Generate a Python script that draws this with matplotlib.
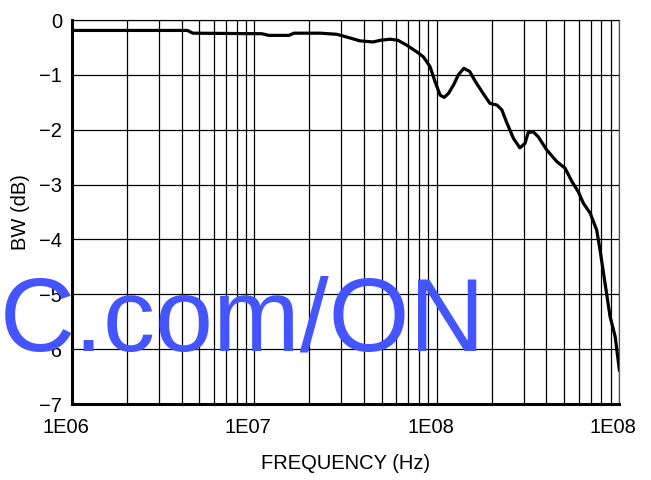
from matplotlib import pyplot as plt
from matplotlib.transforms import ScaledTranslation
import numpy as np

plt.rcParams['font.family'] = ['Liberation Sans', 'DejaVu Sans']

# bandwidth curve
freq = [1.0e6, 4.3e6, 4.6e6, 1.1e7, 1.2e7, 1.55e7, 1.65e7, 2.3e7,
        2.83e7, 3.21e7, 3.80e7, 4.48e7, 4.90e7, 5.55e7, 6.14e7, 6.86e7,
        7.78e7, 8.45e7, 9.20e7, 9.79e7, 1.045e8, 1.10e8, 1.16e8, 1.24e8,
        1.315e8, 1.41e8, 1.52e8, 1.63e8, 1.80e8, 1.96e8, 2.14e8, 2.28e8,
        2.43e8, 2.64e8, 2.86e8, 3.05e8, 3.18e8, 3.39e8, 3.61e8, 4.02e8,
        4.56e8, 5.06e8, 5.51e8, 5.98e8, 6.38e8, 6.95e8, 7.55e8, 7.87e8,
        8.39e8, 8.93e8, 9.53e8, 1.005e9]
bw = [-0.19, -0.19, -0.24, -0.25, -0.28, -0.28, -0.24, -0.24,
      -0.26, -0.31, -0.38, -0.40, -0.37, -0.35, -0.37, -0.46,
      -0.58, -0.67, -0.85, -1.12, -1.37, -1.41, -1.34, -1.18,
      -1.00, -0.88, -0.94, -1.12, -1.34, -1.52, -1.55, -1.64,
      -1.88, -2.16, -2.33, -2.25, -2.05, -2.04, -2.13, -2.37,
      -2.58, -2.70, -2.94, -3.13, -3.34, -3.52, -3.83, -4.19,
      -4.80, -5.40, -5.77, -6.38]

xticks = [1e6, 1e7, 1e8, 1e9]
xtick_labels = ["1E06", "1E07", "1E08", "1E08"]
yticks = [0, -1, -2, -3, -4, -5, -6, -7]
ytick_labels = ["0", "\u22121", "\u22122", "\u22123", "\u22124", "\u22125", "\u22126", "\u22127"]

fig = plt.figure(figsize=(6.51, 4.8), dpi=100)
ax = fig.add_axes([0.1106, 0.1583, 0.8402, 0.8])

ax.plot(freq, bw, color="black", lw=2.3, solid_joinstyle="round", zorder=3)

ax.set_xscale("log")
ax.set_xlim(1e6, 1e9)
ax.set_ylim(-7, 0)
ax.set_xticks(xticks)
ax.set_xticklabels(xtick_labels)
ax.set_xticks([m * d for d in [1e6, 1e7, 1e8] for m in range(2, 10)], minor=True)
ax.set_yticks(yticks)
ax.set_yticklabels(ytick_labels)
ax.tick_params(axis="both", which="both", length=0, labelsize=14.5)
ax.tick_params(axis="x", pad=10)
ax.tick_params(axis="y", pad=7)
ax.grid(True, which="both", color="black", lw=0.9, zorder=1)

# x labels sit a little left of their gridlines
shift = ScaledTranslation(-0.06, 0, fig.dpi_scale_trans)
for lbl in ax.get_xticklabels():
    lbl.set_transform(lbl.get_transform() + shift)

for side in ["left", "bottom"]:
    ax.spines[side].set_linewidth(2.2)
for side in ["top", "right"]:
    ax.spines[side].set_color("#555555")
    ax.spines[side].set_linewidth(0.9)

ax.set_xlabel("FREQUENCY (Hz)", fontsize=14.5, labelpad=12)
ax.set_ylabel("BW (dB)", fontsize=14.5, labelpad=7)
ax.set_axisbelow(False)

# watermark behind everything
fig.text(0.0, 130 / 480, "C.com/ON", fontsize=75, color="#4455ff",
         ha="left", va="baseline", zorder=0)
ax.patch.set_alpha(0)

fig.savefig("out.png")
